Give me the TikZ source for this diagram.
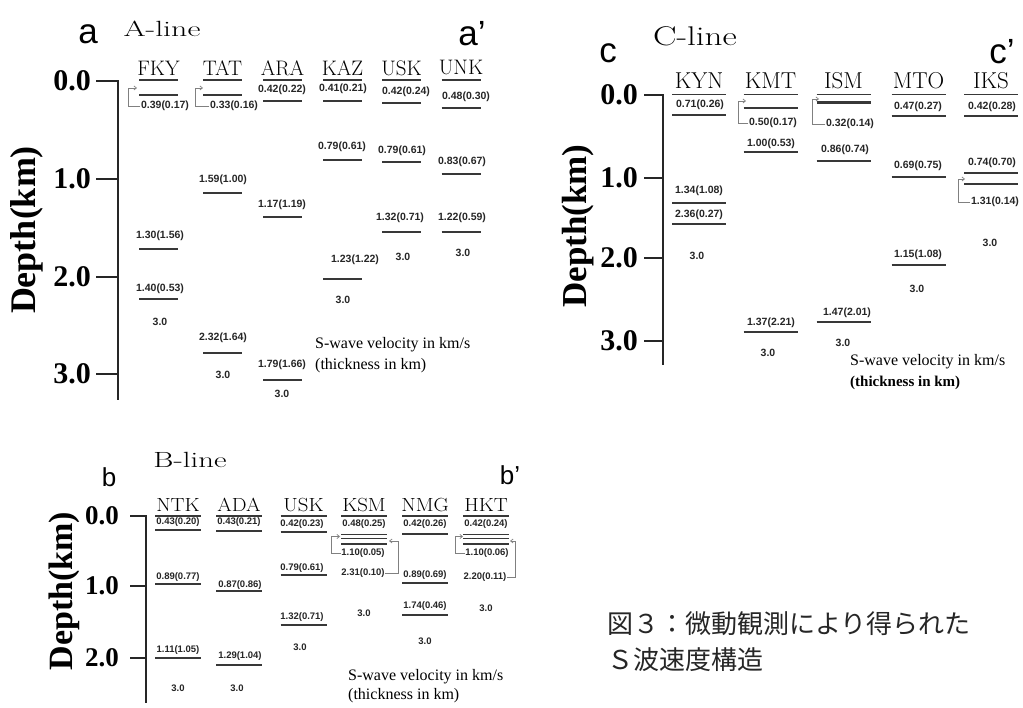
\documentclass[tikz,border=0pt]{standalone}
\usepackage{fontspec}
\usetikzlibrary{arrows.meta}
\newfontfamily\lsans{Liberation Sans}
\newfontfamily\lser{Liberation Serif}
\newfontfamily\cjk{Noto Sans CJK JP}
\newcommand\hw{19.5}
\newcommand\Ly[6]{\draw[layline] (#2-\hw,#3) -- (#2+\hw,#3); \node[vl] (#1) at (#4,#5) {#6};}
\newcommand\Stn[4]{\node[stn] (#1) at (#2,#3) {#1}; \draw[layline] (#2-\hw,#4) -- (#2+\hw,#4);}
\tikzset{
 layline/.style={draw=black!78, line width=1.7pt},
 axisl/.style={draw=black!85, line width=2.4pt, line join=miter},
 vl/.style={font=\lsans\bfseries\fontsize{10.5}{11}\selectfont, text=black!85, inner sep=0.5pt},
 brk/.style={draw=black!50, line width=0.7pt, -{Straight Barb[length=2.5pt,width=4pt]}},
 stn/.style={font=\fontsize{21}{21}\selectfont, inner sep=0},
 anum/.style={font=\lser\bfseries\fontsize{30}{30}\selectfont, anchor=east, inner sep=0},
 depth/.style={font=\lser\bfseries\fontsize{36}{36}\selectfont, rotate=90, anchor=base, inner sep=0},
 panl/.style={font=\lsans\fontsize{35}{35}\selectfont, inner sep=0},
 ttl/.style={font=\fontsize{22}{22}\selectfont, inner sep=0},
 note/.style={font=\lser\fontsize{16}{16}\selectfont, anchor=west, inner sep=0},
 captxt/.style={font=\cjk\fontsize{26}{26}\selectfont, text=black!85, anchor=west, inner sep=0}
}
\begin{document}
\begin{tikzpicture}[x=1pt,y=-1pt]
\useasboundingbox (0,0) rectangle (1023,708);
\fill[white] (0,0) rectangle (1023,708);

% ================= Panel A =================
\node[panl] (pa) at (88,34) {a};
\node[panl] (pap) at (472,34) {a’};
\node[ttl, xscale=1.45] (tA) at (162,29) {A-line};
\draw[axisl] (96,81) -- (118,81) -- (118,400);
\draw[axisl] (96,179) -- (118,179);
\draw[axisl] (96,277) -- (118,277);
\draw[axisl] (96,374) -- (118,374);
\node[anum] (a00) at (91,81) {0.0};
\node[anum] (a10) at (91,179) {1.0};
\node[anum] (a20) at (91,277) {2.0};
\node[anum] (a30) at (91,374) {3.0};
\node[depth] (dA) at (35,230) {Depth(km)};

\renewcommand\hw{19.5}
\Stn{FKY}{158.5}{68}{80}
\Ly{fky1}{158.5}{95}{165}{106}{0.39(0.17)}
\draw[brk] (fky1.west) -| (128,88) -- (137,88);
\Ly{fky2}{158.5}{249}{160}{236}{1.30(1.56)}
\Ly{fky3}{158.5}{299}{160}{289}{1.40(0.53)}
\node[vl] (fky4) at (160,322) {3.0};

\Stn{TAT}{222.5}{68}{80}
\Ly{tat1}{222.5}{95}{234}{106}{0.33(0.16)}
\draw[brk] (tat1.west) -| (195,88) -- (203,88);
\Ly{tat2}{222.5}{193}{223}{180}{1.59(1.00)}
\Ly{tat3}{222.5}{353}{223}{338}{2.32(1.64)}
\node[vl] (tat4) at (223,375) {3.0};

\Stn{ARA}{282.5}{68}{80}
\Ly{ara1}{282.5}{101}{282}{90}{0.42(0.22)}
\Ly{ara2}{282.5}{217}{282}{205}{1.17(1.19)}
\Ly{ara3}{282.5}{380}{282}{365}{1.79(1.66)}
\node[vl] (ara4) at (282,394) {3.0};

\Stn{KAZ}{342.5}{68}{80}
\Ly{kaz1}{342.5}{101}{343}{89}{0.41(0.21)}
\Ly{kaz2}{342.5}{160}{342}{147}{0.79(0.61)}
\Ly{kaz3}{342.5}{279}{355}{260}{1.23(1.22)}
\node[vl] (kaz4) at (343,300) {3.0};

\node[stn] (USKa) at (401.5,68) {USK}; \draw[layline] (382,80) -- (421,80);
\Ly{uska1}{401.5}{103}{406}{92}{0.42(0.24)}
\Ly{uska2}{401.5}{162}{402}{151}{0.79(0.61)}
\Ly{uska3}{401.5}{232}{400}{218}{1.32(0.71)}
\node[vl] (uska4) at (403,257) {3.0};

\Stn{UNK}{461}{68}{80}
\Ly{unk1}{461}{108}{466}{97}{0.48(0.30)}
\Ly{unk2}{461}{174}{462}{162}{0.83(0.67)}
\Ly{unk3}{461}{232}{462}{218}{1.22(0.59)}
\node[vl] (unk4) at (463,253) {3.0};

\node[note] (nA1) at (315,345) {S-wave velocity in km/s};
\node[note] (nA2) at (315,366) {(thickness in km)};

% ================= Panel C =================
\node[panl] (pc) at (608,53) {c};
\node[panl] (pcp) at (1002,52) {c’};
\node[ttl, font=\fontsize{27}{27}\selectfont, xscale=1.3] (tC) at (695,36) {C-line};
\draw[axisl] (644,95) -- (663,95) -- (663,365);
\draw[axisl] (644,178) -- (663,178);
\draw[axisl] (644,258) -- (663,258);
\draw[axisl] (644,341) -- (663,341);
\node[anum] (c00) at (638,95) {0.0};
\node[anum] (c10) at (638,178) {1.0};
\node[anum] (c20) at (638,258) {2.0};
\node[anum] (c30) at (638,341) {3.0};
\node[depth, font=\lser\bfseries\fontsize{35}{35}\selectfont] (dC) at (586,226) {Depth(km)};

\renewcommand\hw{27}
\begin{scope}[stn/.style={font=\fontsize{23}{23}\selectfont, inner sep=0}]
\Stn{KYN}{699}{81}{94.5}
\Ly{kyn1}{699}{115}{700}{105}{0.71(0.26)}
\Ly{kyn2}{699}{203}{699}{191}{1.34(1.08)}
\Ly{kyn3}{699}{224}{699}{215}{2.36(0.27)}
\node[vl] (kyn4) at (697,256) {3.0};

\Stn{KMT}{770.5}{81}{94.5}
\Ly{kmt1}{770.5}{108}{773}{123}{0.50(0.17)}
\draw[brk] (kmt1.west) -| (738,101) -- (746,101);
\Ly{kmt2}{770.5}{152}{771}{144}{1.00(0.53)}
\Ly{kmt3}{770.5}{332}{771}{323}{1.37(2.21)}
\node[vl] (kmt4) at (768,353) {3.0};

\Stn{ISM}{843.5}{81}{94.5}
\draw[layline, line width=2.4pt] (816.5,102.5) -- (870.5,102.5);
\node[vl] (ism1) at (850,124) {0.32(0.14)};
\draw[brk] (ism1.west) -| (812,99) -- (819,99);
\Ly{ism2}{843.5}{161}{845}{150}{0.86(0.74)}
\Ly{ism3}{843.5}{322}{847}{313}{1.47(2.01)}
\node[vl] (ism4) at (843,343) {3.0};

\Stn{MTO}{918.5}{81}{94.5}
\Ly{mto1}{918.5}{116}{918}{107}{0.47(0.27)}
\Ly{mto2}{918.5}{177}{918}{166}{0.69(0.75)}
\Ly{mto3}{918.5}{265}{918}{255}{1.15(1.08)}
\node[vl] (mto4) at (917,289) {3.0};

\Stn{IKS}{991}{81}{94.5}
\Ly{iks1}{991}{116}{992}{107}{0.42(0.28)}
\Ly{iks2}{991}{173}{992}{163}{0.74(0.70)}
\Ly{iks3}{991}{184}{995}{202}{1.31(0.14)}
\draw[brk] (iks3.west) -| (958,179) -- (965,179);
\node[vl] (iks4) at (990,243) {3.0};
\end{scope}

\node[note] (nC1) at (850,362) {S-wave velocity in km/s};
\node[note, font=\lser\bfseries\fontsize{15}{15}\selectfont] (nC2) at (850,383) {(thickness in km)};

% ================= Panel B =================
\node[panl, font=\lsans\fontsize{26}{26}\selectfont] (pb) at (109,477) {b};
\node[panl, font=\lsans\fontsize{26}{26}\selectfont] (pbp) at (510,475) {b’};
\node[ttl, xscale=1.4] (tB) at (190,460) {B-line};
\draw[axisl] (130,516) -- (146,516) -- (146,703);
\draw[axisl] (130,586) -- (146,586);
\draw[axisl] (130,658) -- (146,658);
\node[anum, font=\lser\bfseries\fontsize{27}{27}\selectfont] (b00) at (119,516) {0.0};
\node[anum, font=\lser\bfseries\fontsize{27}{27}\selectfont] (b10) at (119,586) {1.0};
\node[anum, font=\lser\bfseries\fontsize{27}{27}\selectfont] (b20) at (119,658) {2.0};
\node[depth, font=\lser\bfseries\fontsize{34}{34}\selectfont] (dB) at (72,591) {Depth(km)};

\renewcommand\hw{23}
\begin{scope}[stn/.style={font=\fontsize{19}{19}\selectfont, inner sep=0, xscale=1.1},
  vl/.style={font=\lsans\bfseries\fontsize{9.5}{10}\selectfont, text=black!85, inner sep=0.5pt}]
\Stn{NTK}{178}{505}{516}
\Ly{ntk1}{178}{530}{178}{522}{0.43(0.20)}
\Ly{ntk2}{178}{584}{178}{577}{0.89(0.77)}
\Ly{ntk3}{178}{658}{178}{650}{1.11(1.05)}
\node[vl] (ntk4) at (178,688) {3.0};

\Stn{ADA}{239}{505}{516}
\Ly{ada1}{239}{531}{239}{522}{0.43(0.21)}
\Ly{ada2}{239}{591}{240}{585}{0.87(0.86)}
\Ly{ada3}{239}{665}{240}{656}{1.29(1.04)}
\node[vl] (ada4) at (237,688) {3.0};

\node[stn] (USKb) at (303.5,505) {USK}; \draw[layline] (280.5,516) -- (326.5,516);
\Ly{uskb1}{303.5}{532}{302}{524}{0.42(0.23)}
\Ly{uskb2}{303.5}{575}{302}{568}{0.79(0.61)}
\Ly{uskb3}{303.5}{625}{302}{617}{1.32(0.71)}
\node[vl] (uskb4) at (300,647) {3.0};

\Stn{KSM}{364}{505}{516}
\Ly{ksm1}{364}{534.5}{364}{524}{0.48(0.25)}
\Ly{ksm2}{364}{538.5}{363}{553}{1.10(0.05)}
\draw[brk] (ksm2.west) -| (331,536.5) -- (340,536.5);
\Ly{ksm3}{364}{544}{363}{573}{2.31(0.10)}
\draw[brk] (ksm3.east) -| (398,541) -- (389,541);
\node[vl] (ksm4) at (364,613) {3.0};

\Stn{NMG}{425}{505}{516}
\Ly{nmg1}{425}{534}{425}{524}{0.42(0.26)}
\Ly{nmg2}{425}{583}{425}{575}{0.89(0.69)}
\Ly{nmg3}{425}{615}{425}{606}{1.74(0.46)}
\node[vl] (nmg4) at (425,641) {3.0};

\Stn{HKT}{486}{505}{516}
\Ly{hkt1}{486}{534.5}{486}{524}{0.42(0.24)}
\Ly{hkt2}{486}{538.5}{487}{553}{1.10(0.06)}
\draw[brk] (hkt2.west) -| (455,536.5) -- (463,536.5);
\Ly{hkt3}{486}{544}{485}{577}{2.20(0.11)}
\draw[brk] (hkt3.east) -| (515,541) -- (510,541);
\node[vl] (hkt4) at (486,608) {3.0};
\end{scope}

\node[note] (nB1) at (348,677) {S-wave velocity in km/s};
\node[note] (nB2) at (348,696) {(thickness in km)};

% ================= Caption =================
\node[captxt] (cap1) at (607,624) {図３：微動観測により得られた};
\node[captxt] (cap2) at (607,660) {Ｓ波速度構造};
\end{tikzpicture}
\end{document}
